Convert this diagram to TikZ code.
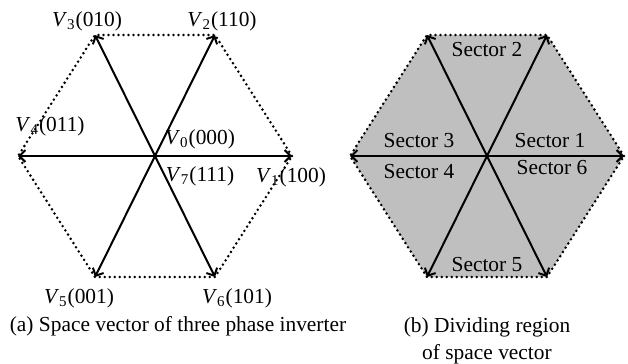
\documentclass[tikz,border=0pt]{standalone}
\usepackage{fontspec}
\setmainfont{Liberation Serif}
\usetikzlibrary{arrows.meta}
\newcommand{\labfont}{\fontsize{10.7pt}{13.5pt}\selectfont}
\newcommand{\svec}[2]{\textit{V}\textsubscript{#1}(#2)}
\tikzset{
  vec/.style={-{Straight Barb[length=3pt,width=6pt]},line width=1pt},
  hexline/.style={dash pattern=on 0pt off 2.5pt,line cap=round,line width=1.4pt},
  region/.style={fill=black!25,draw=none},
  veclab/.style={font=\labfont,inner sep=0pt},
  seclab/.style={font=\labfont,inner sep=0pt},
  caplab/.style={font=\labfont,align=center,inner sep=0pt}
}

\begin{document}
\begin{tikzpicture}[x=0.5pt,y=-0.5pt]
  \useasboundingbox (0,0) rectangle (628,364);
  % (a) space vectors of the inverter
  \begin{scope}
    \coordinate (oa) at (155,156);
    \coordinate (a1) at (292,156); \coordinate (a2) at (215,35);
    \coordinate (a3) at (95,35);   \coordinate (a4) at (18,156);
    \coordinate (a5) at (95,277);  \coordinate (a6) at (215,277);
    \draw[hexline] (a1) -- (a2) -- (a3) -- (a4) -- (a5) -- (a6) -- cycle;
    \draw[vec] (oa) -- (a1); \draw[vec] (oa) -- (a2); \draw[vec] (oa) -- (a3);
    \draw[vec] (oa) -- (a4); \draw[vec] (oa) -- (a5); \draw[vec] (oa) -- (a6);
    \node[veclab] (l3) at (87,21)  {\svec{3}{010}};
    \node[veclab] (l2) at (222,21) {\svec{2}{110}};
    \node[veclab] (l4) at (50,126) {\svec{4}{011}};
    \node[veclab] (l0) at (200,139) {\svec{0}{000}};
    \node[veclab] (l7) at (200,176) {\svec{7}{111}};
    \node[veclab] (l1) at (291,177) {\svec{1}{100}};
    \node[veclab] (l5) at (79,298) {\svec{5}{001}};
    \node[veclab] (l6) at (237,298) {\svec{6}{101}};
    \node[caplab] (capa) at (178,326) {(a) Space vector of three phase inverter};
  \end{scope}
  % (b) the six sectors
  \begin{scope}
    \coordinate (ob) at (487,156);
    \coordinate (b1) at (624,156); \coordinate (b2) at (547,35);
    \coordinate (b3) at (427,35);  \coordinate (b4) at (350,156);
    \coordinate (b5) at (427,277); \coordinate (b6) at (547,277);
    \fill[region] (b1) -- (b2) -- (b3) -- (b4) -- (b5) -- (b6) -- cycle;
    \draw[hexline] (b1) -- (b2) -- (b3) -- (b4) -- (b5) -- (b6) -- cycle;
    \draw[vec] (ob) -- (b1); \draw[vec] (ob) -- (b2); \draw[vec] (ob) -- (b3);
    \draw[vec] (ob) -- (b4); \draw[vec] (ob) -- (b5); \draw[vec] (ob) -- (b6);
    \node[seclab] (s2) at (487,50)  {Sector 2};
    \node[seclab] (s3) at (419,141) {Sector 3};
    \node[seclab] (s1) at (550,141) {Sector 1};
    \node[seclab] (s4) at (419,172) {Sector 4};
    \node[seclab] (s6) at (552,168) {Sector 6};
    \node[seclab] (s5) at (487,265) {Sector 5};
    \node[caplab] (capb) at (487,341) {(b) Dividing region\\of space vector};
  \end{scope}
\end{tikzpicture}
\end{document}
